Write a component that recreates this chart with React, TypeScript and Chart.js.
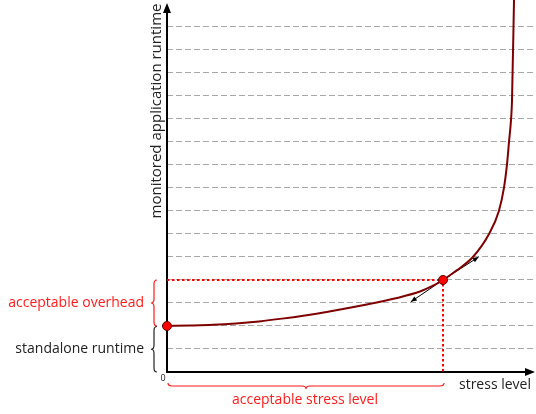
import { useEffect, useRef } from 'react';
import { Chart, registerables } from 'chart.js';

Chart.register(...registerables);

// ---- data ----
const curveX = [0, 1, 2, 3, 4, 5, 6, 7, 8, 9, 10, 11, 11.5, 12, 12.6, 13.3, 14, 14.43, 14.65, 14.78, 14.87, 14.96, 15.0, 15.09];
const curveY = [2.0, 2.02, 2.05, 2.11, 2.2, 2.32, 2.46, 2.62, 2.8, 3.0, 3.22, 3.5, 3.72, 4.0, 4.42, 5.0, 6.0, 7.0, 8.0, 9.0, 10.0, 11.0, 11.8, 16.3];
const markerX = [0, 12];
const markerY = [2, 4];
const limitX = [0, 12, 12];
const limitY = [4, 4, 0];
const gridValues = [1, 2, 3, 4, 5, 6, 7, 8, 9, 10, 11, 12, 13, 14, 15];
const tangentOrigin = [12, 4];
const tangentTipX = [10.6, 13.55];
const tangentTipY = [3.05, 5.0];
const xMax = 16;
const yMax = 16.17;

const yTitle = 'monitored application runtime';
const xTitle = 'stress level';
const zeroLabel = '0';
const overheadLabel = 'acceptable overhead';
const standaloneLabel = 'standalone runtime';
const stressLabel = 'acceptable stress level';

const FONT = '"Open Sans", "DejaVu Sans", sans-serif';
const RED = '#ff1a1a';
const TEXT = '#222222';

function arrowHead(ctx: CanvasRenderingContext2D, fx: number, fy: number, tx: number, ty: number, len: number, half: number) {
  const dx = tx - fx, dy = ty - fy;
  const L = Math.hypot(dx, dy) || 1;
  const ux = dx / L, uy = dy / L;
  const nx = -uy, ny = ux;
  ctx.beginPath();
  ctx.moveTo(tx, ty);
  ctx.lineTo(tx - ux * len + nx * half, ty - uy * len + ny * half);
  ctx.lineTo(tx - ux * len - nx * half, ty - uy * len - ny * half);
  ctx.closePath();
  ctx.fill();
}

function brace(ctx: CanvasRenderingContext2D, x1: number, y1: number, x2: number, y2: number, w: number, color: string) {
  const dx = x2 - x1, dy = y2 - y1;
  const L = Math.hypot(dx, dy);
  const ux = dx / L, uy = dy / L;
  const nx = -uy, ny = ux;
  const P = (s: number, t: number): [number, number] => [x1 + s * ux + t * nx, y1 + s * uy + t * ny];
  const r = Math.min(4, L / 4);
  const h = w / 2;
  ctx.save();
  ctx.strokeStyle = color;
  ctx.lineWidth = 1.2;
  ctx.beginPath();
  ctx.moveTo(...P(0, 0));
  let c = P(0, h), e = P(r, h);
  ctx.quadraticCurveTo(c[0], c[1], e[0], e[1]);
  e = P(L / 2 - r, h);
  ctx.lineTo(e[0], e[1]);
  c = P(L / 2, h); e = P(L / 2, w);
  ctx.quadraticCurveTo(c[0], c[1], e[0], e[1]);
  c = P(L / 2, h); e = P(L / 2 + r, h);
  ctx.quadraticCurveTo(c[0], c[1], e[0], e[1]);
  e = P(L - r, h);
  ctx.lineTo(e[0], e[1]);
  c = P(L, h); e = P(L, 0);
  ctx.quadraticCurveTo(c[0], c[1], e[0], e[1]);
  ctx.stroke();
  ctx.restore();
}

const overlay = {
  id: 'overlay',
  beforeDatasetsDraw(chart: any) {
    const ctx: CanvasRenderingContext2D = chart.ctx;
    const xs = chart.scales.x, ys = chart.scales.y;
    const x0 = xs.getPixelForValue(0);
    const y0 = ys.getPixelForValue(0);
    const right = chart.chartArea.right;
    ctx.save();
    ctx.strokeStyle = '#000';
    ctx.fillStyle = '#000';
    ctx.lineWidth = 2;
    ctx.beginPath();
    ctx.moveTo(x0, y0 + 1);
    ctx.lineTo(x0, 10);
    ctx.stroke();
    arrowHead(ctx, x0, 20, x0, 3, 10, 4);
    ctx.beginPath();
    ctx.moveTo(x0 - 1, y0);
    ctx.lineTo(right - 6, y0);
    ctx.stroke();
    arrowHead(ctx, right - 10, y0, right, y0, 10, 4);

    // tangent arrows
    const ox = xs.getPixelForValue(tangentOrigin[0]);
    const oy = ys.getPixelForValue(tangentOrigin[1]);
    ctx.lineWidth = 1;
    for (let i = 0; i < tangentTipX.length; i++) {
      const tx = xs.getPixelForValue(tangentTipX[i]);
      const ty = ys.getPixelForValue(tangentTipY[i]);
      ctx.beginPath();
      ctx.moveTo(ox, oy);
      ctx.lineTo(tx, ty);
      ctx.stroke();
      arrowHead(ctx, ox, oy, tx, ty, 6, 2.5);
    }
    ctx.restore();
  },
  afterDraw(chart: any) {
    const ctx: CanvasRenderingContext2D = chart.ctx;
    const xs = chart.scales.x, ys = chart.scales.y;
    const x0 = xs.getPixelForValue(0);
    const y0 = ys.getPixelForValue(0);
    const right = chart.chartArea.right;
    const yStd = ys.getPixelForValue(markerY[0]);
    const yAcc = ys.getPixelForValue(markerY[1]);
    const xAcc = xs.getPixelForValue(markerX[1]);

    // braces
    brace(ctx, x0 - 10, yAcc, x0 - 10, yStd, 6, RED);
    brace(ctx, x0 - 10, yStd + 0.5, x0 - 10, y0, 6, TEXT);
    brace(ctx, x0 + 1, y0 + 11, xAcc + 1, y0 + 11, 6, RED);

    ctx.save();
    ctx.textBaseline = 'middle';
    ctx.font = `14px ${FONT}`;
    ctx.textAlign = 'right';
    ctx.fillStyle = RED;
    ctx.fillText(overheadLabel, x0 - 23, (yAcc + yStd) / 2);
    ctx.fillStyle = TEXT;
    ctx.fillText(standaloneLabel, x0 - 23, (yStd + y0) / 2);

    ctx.textAlign = 'center';
    ctx.fillStyle = RED;
    ctx.fillText(stressLabel, (x0 + xAcc) / 2, y0 + 28);

    ctx.textBaseline = 'alphabetic';
    ctx.textAlign = 'right';
    ctx.fillStyle = TEXT;
    ctx.fillText(xTitle, right - 4, y0 + 17);

    ctx.font = `9px ${FONT}`;
    ctx.textAlign = 'center';
    ctx.textBaseline = 'middle';
    ctx.fillText(zeroLabel, x0 - 4, y0 + 6);

    ctx.font = `15px ${FONT}`;
    ctx.translate(x0 - 6, 111);
    ctx.rotate(-Math.PI / 2);
    ctx.textAlign = 'center';
    ctx.textBaseline = 'alphabetic';
    ctx.fillText(yTitle, 0, 0);
    ctx.restore();
  },
};

export default function App() {
  const ref = useRef<HTMLCanvasElement | null>(null);
  useEffect(() => {
    if (!ref.current) return;
    const chart = new Chart(ref.current, {
      type: 'scatter',
      data: {
        datasets: [
          {
            label: 'markers',
            data: markerX.map((x, i) => ({ x, y: markerY[i] })),
            showLine: false,
            pointRadius: 4.5,
            pointBackgroundColor: '#ff0000',
            pointBorderColor: '#5a0000',
            pointBorderWidth: 1,
            clip: false,
          },
          {
            label: 'limits',
            data: limitX.map((x, i) => ({ x, y: limitY[i] })),
            showLine: true,
            borderColor: '#ff0000',
            borderWidth: 2,
            borderDash: [2.5, 2.5],
            pointRadius: 0,
            tension: 0,
          },
          {
            label: 'runtime',
            data: curveX.map((x, i) => ({ x, y: curveY[i] })),
            showLine: true,
            borderColor: '#7f0000',
            borderWidth: 2,
            pointRadius: 0,
            cubicInterpolationMode: 'monotone',
          },
        ],
      },
      options: {
        animation: false,
        responsive: false,
        devicePixelRatio: 1,
        layout: { autoPadding: false, padding: { left: 167, right: 1, top: 0, bottom: 42 } },
        plugins: { legend: { display: false }, tooltip: { enabled: false } },
        scales: {
          x: { type: 'linear', min: 0, max: xMax, display: false },
          y: {
            type: 'linear',
            min: 0,
            max: yMax,
            afterBuildTicks: (scale: any) => {
              scale.ticks = gridValues.map((v) => ({ value: v }));
            },
            ticks: { display: false },
            grid: { drawTicks: false, color: '#a8a8a8', lineWidth: 1 },
            border: { display: false, dash: [6, 3] },
          },
        },
      },
      plugins: [overlay],
    } as any);
    return () => chart.destroy();
  }, []);
  return (
    <div style={{ position: 'fixed', left: 0, top: 0, width: 536, height: 414 }}>
      <canvas ref={ref} width={536} height={414} style={{ display: 'block' }} />
    </div>
  );
}
